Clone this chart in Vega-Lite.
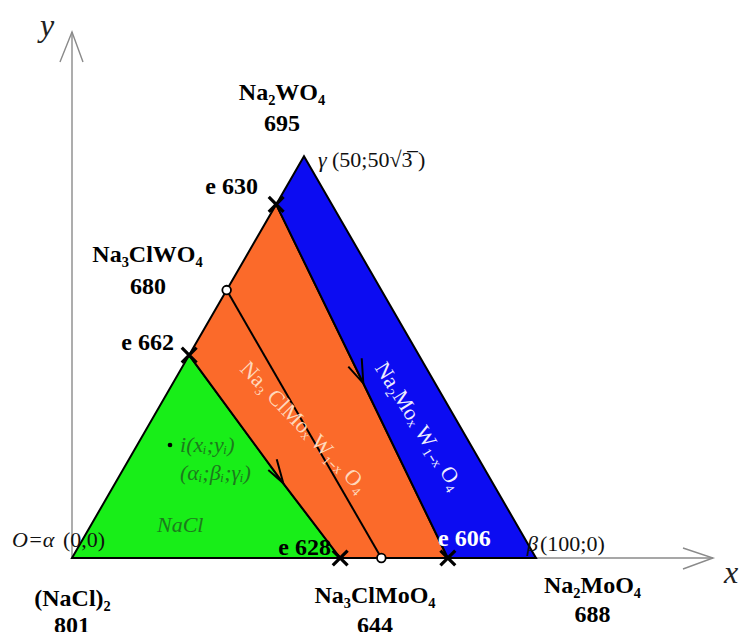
{
  "$schema": "https://vega.github.io/schema/vega-lite/v6.json",
  "width": 741,
  "height": 632,
  "autosize": "none",
  "padding": 0,
  "background": "white",
  "config": {"view": {"stroke": null}},
  "datasets": {
    "axes": [
      {"axis": "y", "ord": 0, "x": 0, "y": 0},
      {"axis": "y", "ord": 1, "x": 0, "y": 113.36},
      {"axis": "x", "ord": 0, "x": 0, "y": 0},
      {"axis": "x", "ord": 1, "x": 138.15, "y": 0},
      {"axis": "yhead", "ord": 0, "x": -2.59, "y": 106.9},
      {"axis": "yhead", "ord": 1, "x": 0, "y": 113.36},
      {"axis": "yhead", "ord": 2, "x": 2.37, "y": 106.9},
      {"axis": "xhead", "ord": 0, "x": 131.68, "y": 2.16},
      {"axis": "xhead", "ord": 1, "x": 138.15, "y": 0},
      {"axis": "xhead", "ord": 2, "x": 131.68, "y": -2.37}
    ],
    "fields": [
      {"phase": "NaCl", "ord": 0, "x": 0, "y": 0},
      {"phase": "NaCl", "ord": 1, "x": 25.25, "y": 43.73},
      {"phase": "NaCl", "ord": 2, "x": 45.54, "y": 16.1},
      {"phase": "NaCl", "ord": 3, "x": 57.8, "y": 0},
      {"phase": "Na3ClMoxW1-xO4", "ord": 0, "x": 25.25, "y": 43.73},
      {"phase": "Na3ClMoxW1-xO4", "ord": 1, "x": 44, "y": 76.21},
      {"phase": "Na3ClMoxW1-xO4", "ord": 2, "x": 62.78, "y": 37.65},
      {"phase": "Na3ClMoxW1-xO4", "ord": 3, "x": 81, "y": 0},
      {"phase": "Na3ClMoxW1-xO4", "ord": 4, "x": 57.8, "y": 0},
      {"phase": "Na3ClMoxW1-xO4", "ord": 5, "x": 45.54, "y": 16.1},
      {"phase": "Na2MoxW1-xO4", "ord": 0, "x": 44, "y": 76.21},
      {"phase": "Na2MoxW1-xO4", "ord": 1, "x": 50, "y": 86.6},
      {"phase": "Na2MoxW1-xO4", "ord": 2, "x": 100, "y": 0},
      {"phase": "Na2MoxW1-xO4", "ord": 3, "x": 81, "y": 0},
      {"phase": "Na2MoxW1-xO4", "ord": 4, "x": 62.78, "y": 37.65}
    ],
    "section": [
      {"ord": 0, "x": 33.33, "y": 57.74},
      {"ord": 1, "x": 66.67, "y": 0}
    ],
    "arrows": [
      {"arrow": "a1", "ord": 0, "x": 42.31, "y": 18.97},
      {"arrow": "a1", "ord": 1, "x": 45.54, "y": 16.1},
      {"arrow": "a1", "ord": 2, "x": 44.12, "y": 21.27},
      {"arrow": "a2", "ord": 0, "x": 59.55, "y": 41.23},
      {"arrow": "a2", "ord": 1, "x": 62.78, "y": 37.65},
      {"arrow": "a2", "ord": 2, "x": 62.44, "y": 43.04}
    ],
    "eutectics": [
      {"name": "e 662", "x": 25.25, "y": 43.73},
      {"name": "e 630", "x": 44, "y": 76.21},
      {"name": "e 628", "x": 57.8, "y": 0},
      {"name": "e 606", "x": 81, "y": 0}
    ],
    "compounds": [
      {"name": "Na3ClWO4", "x": 33.33, "y": 57.74},
      {"name": "Na3ClMoO4", "x": 66.67, "y": 0}
    ],
    "labels": [
      {"role": "compound", "text": "Na₂WO₄", "x": 45.26, "y": 98.71},
      {"role": "compound", "text": "695", "x": 45.26, "y": 92.03},
      {"role": "compound", "text": "Na₃ClWO₄", "x": 16.27, "y": 63.79},
      {"role": "compound", "text": "680", "x": 16.38, "y": 56.9},
      {"role": "compound", "text": "(NaCl)₂", "x": 0.11, "y": -10.34},
      {"role": "compound", "text": "801", "x": 0, "y": -16.16},
      {"role": "compound", "text": "Na₃ClMoO₄", "x": 65.3, "y": -9.7},
      {"role": "compound", "text": "644", "x": 65.3, "y": -16.16},
      {"role": "compound", "text": "Na₂MoO₄", "x": 112.18, "y": -7.54},
      {"role": "compound", "text": "688", "x": 112.18, "y": -13.79},
      {"role": "eutectic", "text": "e 630", "x": 40.09, "y": 78.45},
      {"role": "eutectic", "text": "e 662", "x": 21.98, "y": 44.83},
      {"role": "eutectic", "text": "e 628", "x": 55.82, "y": 0.65},
      {"role": "eutectic-blue", "text": "e 606", "x": 78.88, "y": 2.59},
      {"role": "vertex", "text": "γ", "x": 53.02, "y": 84.27},
      {"role": "coord", "text": "(50;50√3̅ )", "x": 56.03, "y": 84.27},
      {"role": "vertex", "text": "O=α", "x": -12.93, "y": 2.37},
      {"role": "coord", "text": "(0,0)", "x": -1.94, "y": 2.37},
      {"role": "vertex", "text": "β", "x": 98.06, "y": 1.51},
      {"role": "coord", "text": "(100;0)", "x": 100.86, "y": 1.51},
      {"role": "axis", "text": "y", "x": -5.39, "y": 112.5},
      {"role": "axis", "text": "x", "x": 142.03, "y": -5.39},
      {"role": "point", "text": "i(xᵢ;yᵢ)", "x": 23.28, "y": 22.84},
      {"role": "point", "text": "(αᵢ;βᵢ;γᵢ)", "x": 23.28, "y": 16.81},
      {"role": "point", "text": "NaCl", "x": 18.32, "y": 5.6},
      {"role": "phase-orange", "text": "Na₃ ClMoₓ W₁₋ₓ O₄", "x": 50.0, "y": 28.23},
      {"role": "phase-blue", "text": "Na₂Moₓ W₁₋ₓ O₄", "x": 74.78, "y": 28.45}
    ],
    "figurative": [
      {"name": "i", "x": 21.12, "y": 24.35}
    ]
  },
  "encoding": {
    "x": {"field": "x", "type": "quantitative", "axis": null,
          "scale": {"domain": [-15.517, 144.181], "nice": false, "zero": false}},
    "y": {"field": "y", "type": "quantitative", "axis": null,
          "scale": {"domain": [-15.948, 120.259], "nice": false, "zero": false}}
  },
  "layer": [
    {
      "data": {"name": "axes"},
      "mark": {"type": "line", "stroke": "#8a8a8a", "strokeWidth": 1.4},
      "encoding": {"detail": {"field": "axis"}, "order": {"field": "ord"}}
    },
    {
      "data": {"name": "fields"},
      "transform": [{"filter": "datum.phase === 'NaCl'"}],
      "mark": {"type": "line", "interpolate": "linear-closed", "fill": "#18ee18", "stroke": "#000000", "strokeWidth": 2},
      "encoding": {"order": {"field": "ord"}}
    },
    {
      "data": {"name": "fields"},
      "transform": [{"filter": "datum.phase === 'Na3ClMoxW1-xO4'"}],
      "mark": {"type": "line", "interpolate": "linear-closed", "fill": "#fb6a2a", "stroke": "#000000", "strokeWidth": 2},
      "encoding": {"order": {"field": "ord"}}
    },
    {
      "data": {"name": "fields"},
      "transform": [{"filter": "datum.phase === 'Na2MoxW1-xO4'"}],
      "mark": {"type": "line", "interpolate": "linear-closed", "fill": "#0c0cf2", "stroke": "#000000", "strokeWidth": 2},
      "encoding": {"order": {"field": "ord"}}
    },
    {
      "data": {"name": "section"},
      "mark": {"type": "line", "stroke": "#000000", "strokeWidth": 2},
      "encoding": {"order": {"field": "ord"}}
    },
    {
      "data": {"name": "arrows"},
      "mark": {"type": "line", "stroke": "#000000", "strokeWidth": 2},
      "encoding": {"detail": {"field": "arrow"}, "order": {"field": "ord"}}
    },
    {
      "data": {"name": "eutectics"},
      "mark": {"type": "point", "shape": "M-1,-1L1,1M-1,1L1,-1", "size": 220, "filled": false, "stroke": "#000000", "strokeWidth": 3.2, "opacity": 1}
    },
    {
      "data": {"name": "compounds"},
      "mark": {"type": "point", "shape": "circle", "size": 75, "filled": true, "fill": "#ffffff", "stroke": "#000000", "strokeWidth": 1.8, "opacity": 1}
    },
    {
      "data": {"name": "figurative"},
      "mark": {"type": "point", "shape": "circle", "size": 22, "filled": true, "color": "#000000", "opacity": 1}
    },
    {
      "data": {"name": "labels"},
      "transform": [{"filter": "datum.role === 'compound'"}],
      "mark": {"type": "text", "font": "Liberation Serif", "fontWeight": "bold", "fontSize": 24, "align": "center", "baseline": "alphabetic", "color": "#000000"},
      "encoding": {"text": {"field": "text"}}
    },
    {
      "data": {"name": "labels"},
      "transform": [{"filter": "datum.role === 'eutectic'"}],
      "mark": {"type": "text", "font": "Liberation Serif", "fontWeight": "bold", "fontSize": 24, "align": "right", "baseline": "alphabetic", "color": "#000000"},
      "encoding": {"text": {"field": "text"}}
    },
    {
      "data": {"name": "labels"},
      "transform": [{"filter": "datum.role === 'eutectic-blue'"}],
      "mark": {"type": "text", "font": "Liberation Serif", "fontWeight": "bold", "fontSize": 24, "align": "left", "baseline": "alphabetic", "color": "#ffffff"},
      "encoding": {"text": {"field": "text"}}
    },
    {
      "data": {"name": "labels"},
      "transform": [{"filter": "datum.role === 'vertex'"}],
      "mark": {"type": "text", "font": "Liberation Serif", "fontStyle": "italic", "fontSize": 22, "align": "left", "baseline": "alphabetic", "color": "#111111"},
      "encoding": {"text": {"field": "text"}}
    },
    {
      "data": {"name": "labels"},
      "transform": [{"filter": "datum.role === 'coord'"}],
      "mark": {"type": "text", "font": "Liberation Serif", "fontSize": 22, "align": "left", "baseline": "alphabetic", "color": "#111111"},
      "encoding": {"text": {"field": "text"}}
    },
    {
      "data": {"name": "labels"},
      "transform": [{"filter": "datum.role === 'axis'"}],
      "mark": {"type": "text", "font": "Liberation Serif", "fontStyle": "italic", "fontSize": 32, "align": "center", "baseline": "alphabetic", "color": "#222222"},
      "encoding": {"text": {"field": "text"}}
    },
    {
      "data": {"name": "labels"},
      "transform": [{"filter": "datum.role === 'point'"}],
      "mark": {"type": "text", "font": "Liberation Serif", "fontStyle": "italic", "fontSize": 22, "align": "left", "baseline": "alphabetic", "color": "#1d7a1d"},
      "encoding": {"text": {"field": "text"}}
    },
    {
      "data": {"name": "labels"},
      "transform": [{"filter": "datum.role === 'phase-orange'"}],
      "mark": {"type": "text", "font": "Liberation Serif", "fontSize": 22, "align": "center", "baseline": "middle", "angle": 46, "color": "#ffd8bc"},
      "encoding": {"text": {"field": "text"}}
    },
    {
      "data": {"name": "labels"},
      "transform": [{"filter": "datum.role === 'phase-blue'"}],
      "mark": {"type": "text", "font": "Liberation Serif", "fontSize": 22, "align": "center", "baseline": "middle", "angle": 58, "color": "#eeeeff"},
      "encoding": {"text": {"field": "text"}}
    }
  ]
}
